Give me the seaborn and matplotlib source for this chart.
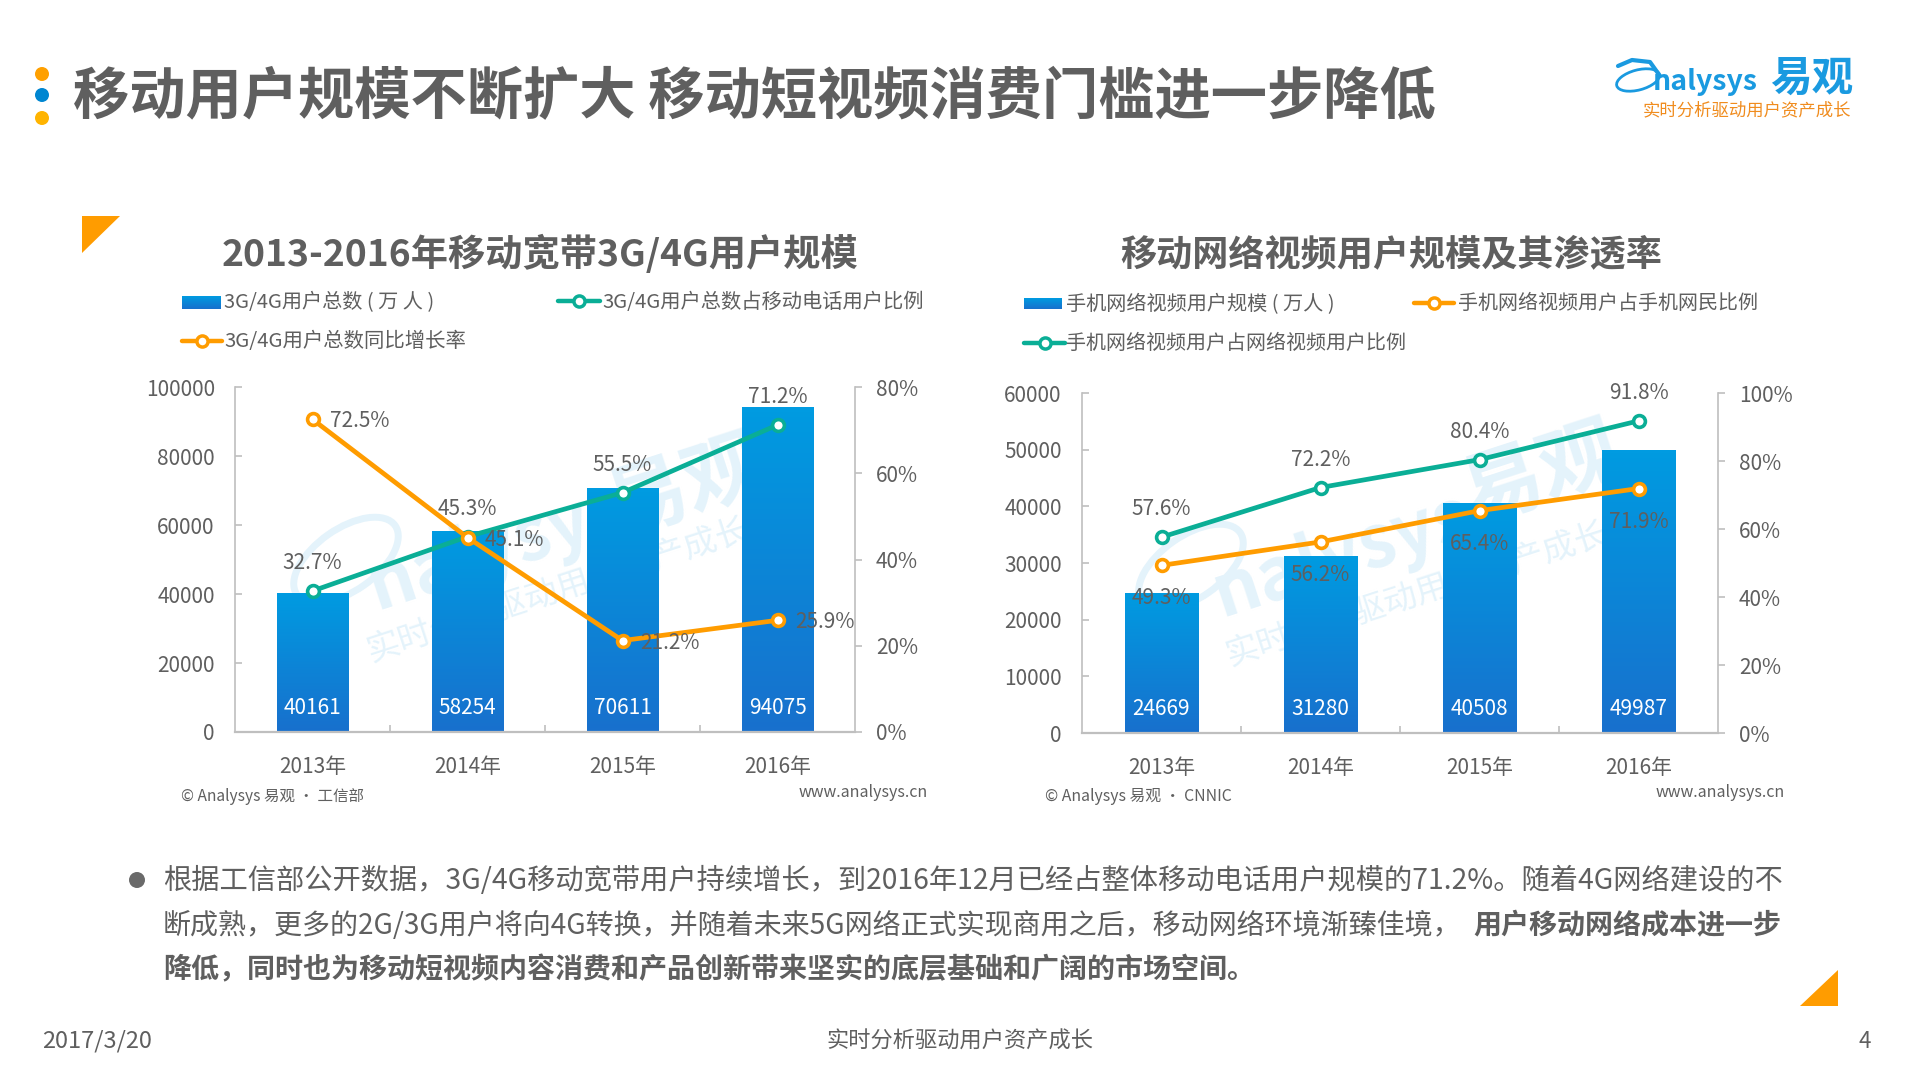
import numpy as np
import matplotlib
matplotlib.use('Agg')
import matplotlib.pyplot as plt
import seaborn as sns
from matplotlib.colors import LinearSegmentedColormap
from matplotlib.patches import Circle, Ellipse, Polygon
from matplotlib.ticker import FixedLocator, PercentFormatter

# data
years = ['2013年', '2014年', '2015年', '2016年']
broadband_users = [40161, 58254, 70611, 94075]
broadband_share = [32.7, 45.3, 55.5, 71.2]
broadband_growth = [72.5, 45.1, 21.2, 25.9]
video_users = [24669, 31280, 40508, 49987]
video_share_mobile = [49.3, 56.2, 65.4, 71.9]
video_share_video = [57.6, 72.2, 80.4, 91.8]

GRAY = '#5f5f5f'
AXIS = '#bfbfbf'
GREEN = '#0aae96'
ORANGE = '#ff9c00'
WATER = '#e4f3fb'
bar_cmap = LinearSegmentedColormap.from_list('bar', ['#009be1', '#1870cd'])

sns.set_theme(style='white')
plt.rcParams['font.family'] = ['Noto Sans CJK SC', 'DejaVu Sans']

W, H = 1920, 1080
fig = plt.figure(figsize=(19.2, 10.8), dpi=100, facecolor='white')

# overlay in pixel coordinates for the slide furniture
bg = fig.add_axes([0, 0, 1, 1], zorder=-1)
bg.set_axis_off()


def reset_bg():
    bg.set_xlim(0, W)
    bg.set_ylim(H, 0)


reset_bg()


def txt(x, y, s, size, color=GRAY, weight='normal', ha='left', **kw):
    return bg.text(x, y, s, fontsize=size, color=color, fontweight=weight,
                   ha=ha, va='center', **kw)


def legend_line(x0, x1, y, color):
    bg.plot([x0, x1], [y, y], color=color, lw=3.2, solid_capstyle='round',
            marker='', zorder=3)
    bg.plot([(x0 + x1) / 2], [y], marker='o', ms=8, mfc='white', mec=color,
            mew=2.5, zorder=4)


def legend_swatch(x0, x1, y0, y1):
    bg.imshow(np.linspace(0, 1, 64).reshape(-1, 1), extent=[x0, x1, y1, y0],
              cmap=bar_cmap, aspect='auto', origin='upper', zorder=3)
    reset_bg()


def watermark(cx_logo, cy_logo, cx_text, cy_text, cx_cn, cy_cn):
    bg.add_patch(Ellipse((cx_logo - 150, cy_logo + 12), 120, 62, angle=-35, fill=False,
                         ec=WATER, lw=5))
    txt(cx_logo, cy_logo, 'nalysys', 52, color=WATER, weight='bold', ha='center',
        rotation=18, style='italic', rotation_mode='anchor')
    txt(cx_text, cy_text, '实时分析驱动用户资产成长', 24, color=WATER, ha='center',
        rotation=18, rotation_mode='anchor')
    txt(cx_cn, cy_cn, '易观', 58, color=WATER, weight='bold', ha='center',
        rotation=18, rotation_mode='anchor')


def make_chart(px, users, ymax, ystep, line_a, color_a, line_b, color_b, rmax, place_b):
    x0, x1, y0, y1 = px
    ax = fig.add_axes([x0 / W, 1 - y1 / H, (x1 - x0) / W, (y1 - y0) / H])
    ax.patch.set_visible(False)
    sns.barplot(x=years, y=users, ax=ax, width=0.46, color='#0d85d6', saturation=1)
    ax.set_xlim(-0.5, 3.5)
    ax.set_ylim(0, ymax)

    # gradient fill, clipped to each bar
    for bar in ax.patches:
        bx, bw, bh = bar.get_x(), bar.get_width(), bar.get_height()
        im = ax.imshow(np.linspace(0, 1, 64).reshape(-1, 1),
                       extent=[bx, bx + bw, 0, bh], cmap=bar_cmap,
                       aspect='auto', origin='upper', zorder=bar.get_zorder() + 0.1)
        im.set_clip_path(bar)
    ax.set_xlim(-0.5, 3.5)
    ax.set_ylim(0, ymax)

    for i, v in enumerate(users):
        ax.annotate(str(v), (i, 0), xytext=(0, 24), textcoords='offset pixels',
                    ha='center', va='center', color='white', fontsize=15, zorder=5)

    ax.set_yticks(np.arange(0, ymax + 1, ystep))
    ax.xaxis.set_minor_locator(FixedLocator([0.5, 1.5, 2.5]))
    ax.tick_params(axis='x', which='major', length=0, pad=17.5, labelsize=15, labelcolor=GRAY)
    ax.tick_params(axis='x', which='minor', length=5, width=1.2, color=AXIS, direction='in',
                   bottom=True)
    ax.tick_params(axis='y', length=5, width=1.2, color=AXIS, direction='in', left=True,
                   pad=14.5, labelsize=15, labelcolor=GRAY)
    ax.set_xlabel('')
    ax.set_ylabel('')
    for side in ['top', 'right']:
        ax.spines[side].set_visible(False)
    ax.spines['left'].set_color(AXIS)
    ax.spines['left'].set_linewidth(1.2)
    ax.spines['bottom'].set_color(AXIS)
    ax.spines['bottom'].set_linewidth(1.6)

    ax2 = ax.twinx()
    ax2.patch.set_visible(False)
    xs = np.arange(len(years))
    for values, color in [(line_a, color_a), (line_b, color_b)]:
        sns.lineplot(x=xs, y=values, ax=ax2, color=color, lw=3.4, marker='o', ms=8.5,
                     mfc='white', mec=color, mew=2.6, legend=False, errorbar=None)
    ax2.set_ylim(0, rmax)
    ax2.set_xlim(-0.5, 3.5)
    ax2.set_yticks(np.arange(0, rmax + 1, 20))
    ax2.yaxis.set_major_formatter(PercentFormatter(decimals=0))
    ax2.tick_params(axis='y', length=5, width=1.2, color=AXIS, direction='out', right=True,
                    pad=10, labelsize=15, labelcolor=GRAY)
    ax2.set_ylabel('')
    for side in ['top', 'left', 'bottom']:
        ax2.spines[side].set_visible(False)
    ax2.spines['right'].set_color(AXIS)
    ax2.spines['right'].set_linewidth(1.2)

    # line labels
    for i, v in enumerate(line_a):
        ax2.annotate(f'{v}%', (i, v), xytext=(0, 28), textcoords='offset pixels',
                     ha='center', va='center', color=GRAY, fontsize=15)
    for i, v in enumerate(line_b):
        ax2.annotate(f'{v}%', (i, v), xytext=place_b, textcoords='offset pixels',
                     ha='center', va='center', color=GRAY, fontsize=15)
    return ax, ax2


# slide header
for cy, c in [(74, '#ffa000'), (95, '#0086d1'), (118, '#ffb400')]:
    bg.add_patch(Circle((42, cy), 7, fc=c, ec='none'))
txt(73, 97.5, '移动用户规模不断扩大 移动短视频消费门槛进一步降低', 40.5, weight='bold')

# logo
bg.add_patch(Ellipse((1638, 80), 44, 20, angle=-15, fill=False, ec='#1a9ae0', lw=2))
bg.plot([1618, 1632, 1650, 1660], [66, 60, 62, 76], color='#1a9ae0', lw=3)
txt(1653, 82, 'nalysys', 20.5, color='#1a9ae0', weight='bold', style='italic')
txt(1770, 79, '易观', 30, color='#1a9ae0', weight='bold')
txt(1643, 110, '实时分析驱动用户资产成长', 12.5, color='#f08c1e')

# corner triangles
bg.add_patch(Polygon([(82, 216), (120, 216), (82, 253)], fc=ORANGE, ec='none'))
bg.add_patch(Polygon([(1800, 1006), (1838, 1006), (1838, 970)], fc=ORANGE, ec='none'))

# watermarks
watermark(496, 548, 558, 590, 686, 488)
watermark(1341, 555, 1417, 594, 1541, 475)

# left chart furniture
txt(540, 254.5, '2013-2016年移动宽带3G/4G用户规模', 26.8, weight='bold', ha='center')
legend_swatch(182, 221, 296, 309)
txt(224, 303, '3G/4G用户总数 ( 万 人 )', 14.5)
legend_line(558, 600, 301, GREEN)
txt(602, 302.5, '3G/4G用户总数占移动电话用户比例', 14.6)
legend_line(182, 222, 341, ORANGE)
txt(224, 341, '3G/4G用户总数同比增长率', 14.7)
txt(181, 796.5, '© Analysys 易观 · 工信部', 11.2)
txt(928, 792.5, 'www.analysys.cn', 11.5, ha='right')

# right chart furniture
txt(1391, 254.5, '移动网络视频用户规模及其渗透率', 26, weight='bold', ha='center')
legend_swatch(1024, 1062, 298, 309)
txt(1066, 305, '手机网络视频用户规模 ( 万人 )', 14.5)
legend_line(1414, 1454, 303, ORANGE)
txt(1458, 303, '手机网络视频用户占手机网民比例', 14.4)
legend_line(1024, 1065, 343, GREEN)
txt(1066, 343, '手机网络视频用户占网络视频用户比例', 14.4)
txt(1045, 796.5, '© Analysys 易观 · CNNIC', 11.4)
txt(1785, 792.5, 'www.analysys.cn', 11.5, ha='right')

make_chart((235, 855, 387, 732), broadband_users, 100000, 20000,
           broadband_share, GREEN, broadband_growth, ORANGE, 80, (47, -2))
make_chart((1082, 1718, 393, 733), video_users, 60000, 10000,
           video_share_video, GREEN, video_share_mobile, ORANGE, 100, (0, -33))

# body text
bg.add_patch(Circle((137, 880), 8, fc='#6a6a6a', ec='none'))
txt(163, 881.5, '根据工信部公开数据，3G/4G移动宽带用户持续增长，到2016年12月已经占整体移动电话用户规模的71.2%。随着4G网络建设的不', 20.35)
txt(163, 926, '断成熟，更多的2G/3G用户将向4G转换，并随着未来5G网络正式实现商用之后，移动网络环境渐臻佳境，', 20.2)
txt(1473, 926, '用户移动网络成本进一步', 20.2, weight='bold')
txt(163, 970, '降低，同时也为移动短视频内容消费和产品创新带来坚实的底层基础和广阔的市场空间。', 20.2, weight='bold')

# footer
txt(42, 1041.5, '2017/3/20', 17)
txt(959.5, 1041.5, '实时分析驱动用户资产成长', 16, ha='center')
txt(1865, 1041.5, '4', 16, ha='center')

fig.savefig('out.png', dpi=100)
